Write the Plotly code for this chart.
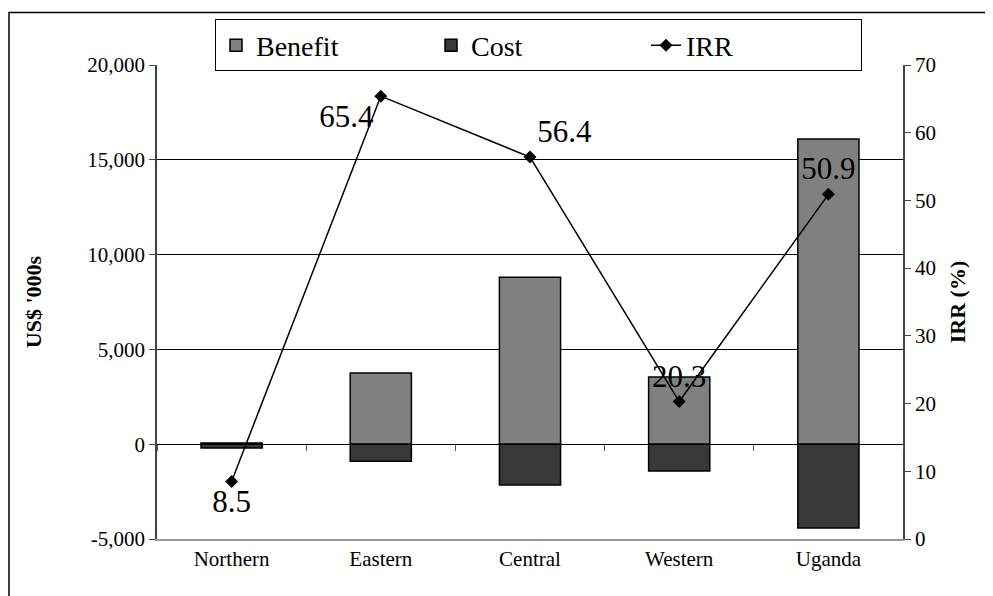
import plotly.graph_objects as go

regions = ["Northern", "Eastern", "Central", "Western", "Uganda"]
benefit = [60, 3750, 8800, 3550, 16100]
cost = [-200, -900, -2150, -1420, -4420]
irr = [8.5, 65.4, 56.4, 20.3, 50.9]
irr_text = ["8.5", "65.4", "56.4", "20.3", "50.9"]
irr_textpos = ["bottom center", "bottom left", "top right", "top center", "top center"]
y_tickvals = [-5000, 0, 5000, 10000, 15000, 20000]
y_ticktext = ["-5,000", "0", "5,000", "10,000", "15,000", "20,000"]

FONT = "Liberation Serif, Times New Roman, serif"

fig = go.Figure()
fig.add_trace(go.Bar(
    x=regions, y=benefit, name="Benefit", width=0.41,
    marker=dict(color="#808080", line=dict(color="black", width=1.5)),
))
fig.add_trace(go.Bar(
    x=regions, y=cost, name="Cost", width=0.41,
    marker=dict(color="#383838", line=dict(color="black", width=1.5)),
))
fig.add_trace(go.Scatter(
    x=regions, y=irr, name="IRR", yaxis="y2", mode="lines+markers+text",
    line=dict(color="black", width=1.5),
    marker=dict(symbol="diamond", size=10, color="black"),
    text=irr_text, textposition=irr_textpos,
    textfont=dict(family=FONT, size=31, color="black"),
))
# invisible helper trace for the category tick marks on the zero line
fig.add_trace(go.Scatter(
    x=regions, y=[0] * len(regions), xaxis="x2", mode="markers",
    marker=dict(opacity=0), showlegend=False, hoverinfo="skip",
))

# The page body has an 8px margin, so the figure is offset by 8px.
fig.update_layout(
    width=993, height=596,
    margin=dict(l=149, r=98, t=53, b=65),
    paper_bgcolor="white", plot_bgcolor="white",
    barmode="relative",
    font=dict(family=FONT, size=21, color="black"),
    xaxis=dict(
        type="category", showgrid=False, showline=True, linecolor="#999999", linewidth=1.5,
        ticks="", tickfont=dict(family=FONT, size=21), range=[-0.5, 4.5],
    ),
    xaxis2=dict(
        type="category", overlaying="x", matches="x", anchor="free", position=0.2,
        showgrid=False, showline=False, showticklabels=False,
        ticks="outside", tickson="boundaries", ticklen=6, tickcolor="#555555", tickwidth=1,
    ),
    yaxis=dict(
        range=[-5000, 20000], tickvals=y_tickvals, ticktext=y_ticktext,
        showgrid=True, gridcolor="black", gridwidth=1, zeroline=False,
        showline=True, linecolor="#444444", linewidth=1.5,
        ticks="outside", ticklen=6, tickcolor="#444444",
        title=dict(text="<b>US$ '000s</b>", font=dict(family=FONT, size=22), standoff=40),
        tickfont=dict(family=FONT, size=21),
    ),
    yaxis2=dict(
        range=[0, 70], dtick=10, overlaying="y", side="right",
        showgrid=False, zeroline=False,
        showline=True, linecolor="#444444", linewidth=1.5,
        ticks="outside", ticklen=6, tickcolor="#444444",
        title=dict(text="<b>IRR (%)</b>", font=dict(family=FONT, size=22), standoff=15),
        tickfont=dict(family=FONT, size=21),
    ),
    legend=dict(
        orientation="h", x=(215 - 157) / 746, y=1.096, xanchor="left", yanchor="top",
        bordercolor="black", borderwidth=1, bgcolor="white",
        font=dict(family=FONT, size=28), entrywidth=170, traceorder="normal",
    ),
    showlegend=True,
)

fig.add_shape(
    type="rect", xref="paper", yref="paper",
    x0=(9 - 157) / 746, x1=1.3, y0=-0.3, y1=(539 - 8) / 478,
    line=dict(color="black", width=1.5), fillcolor="rgba(0,0,0,0)", layer="below",
)

fig.write_html("out.html")
